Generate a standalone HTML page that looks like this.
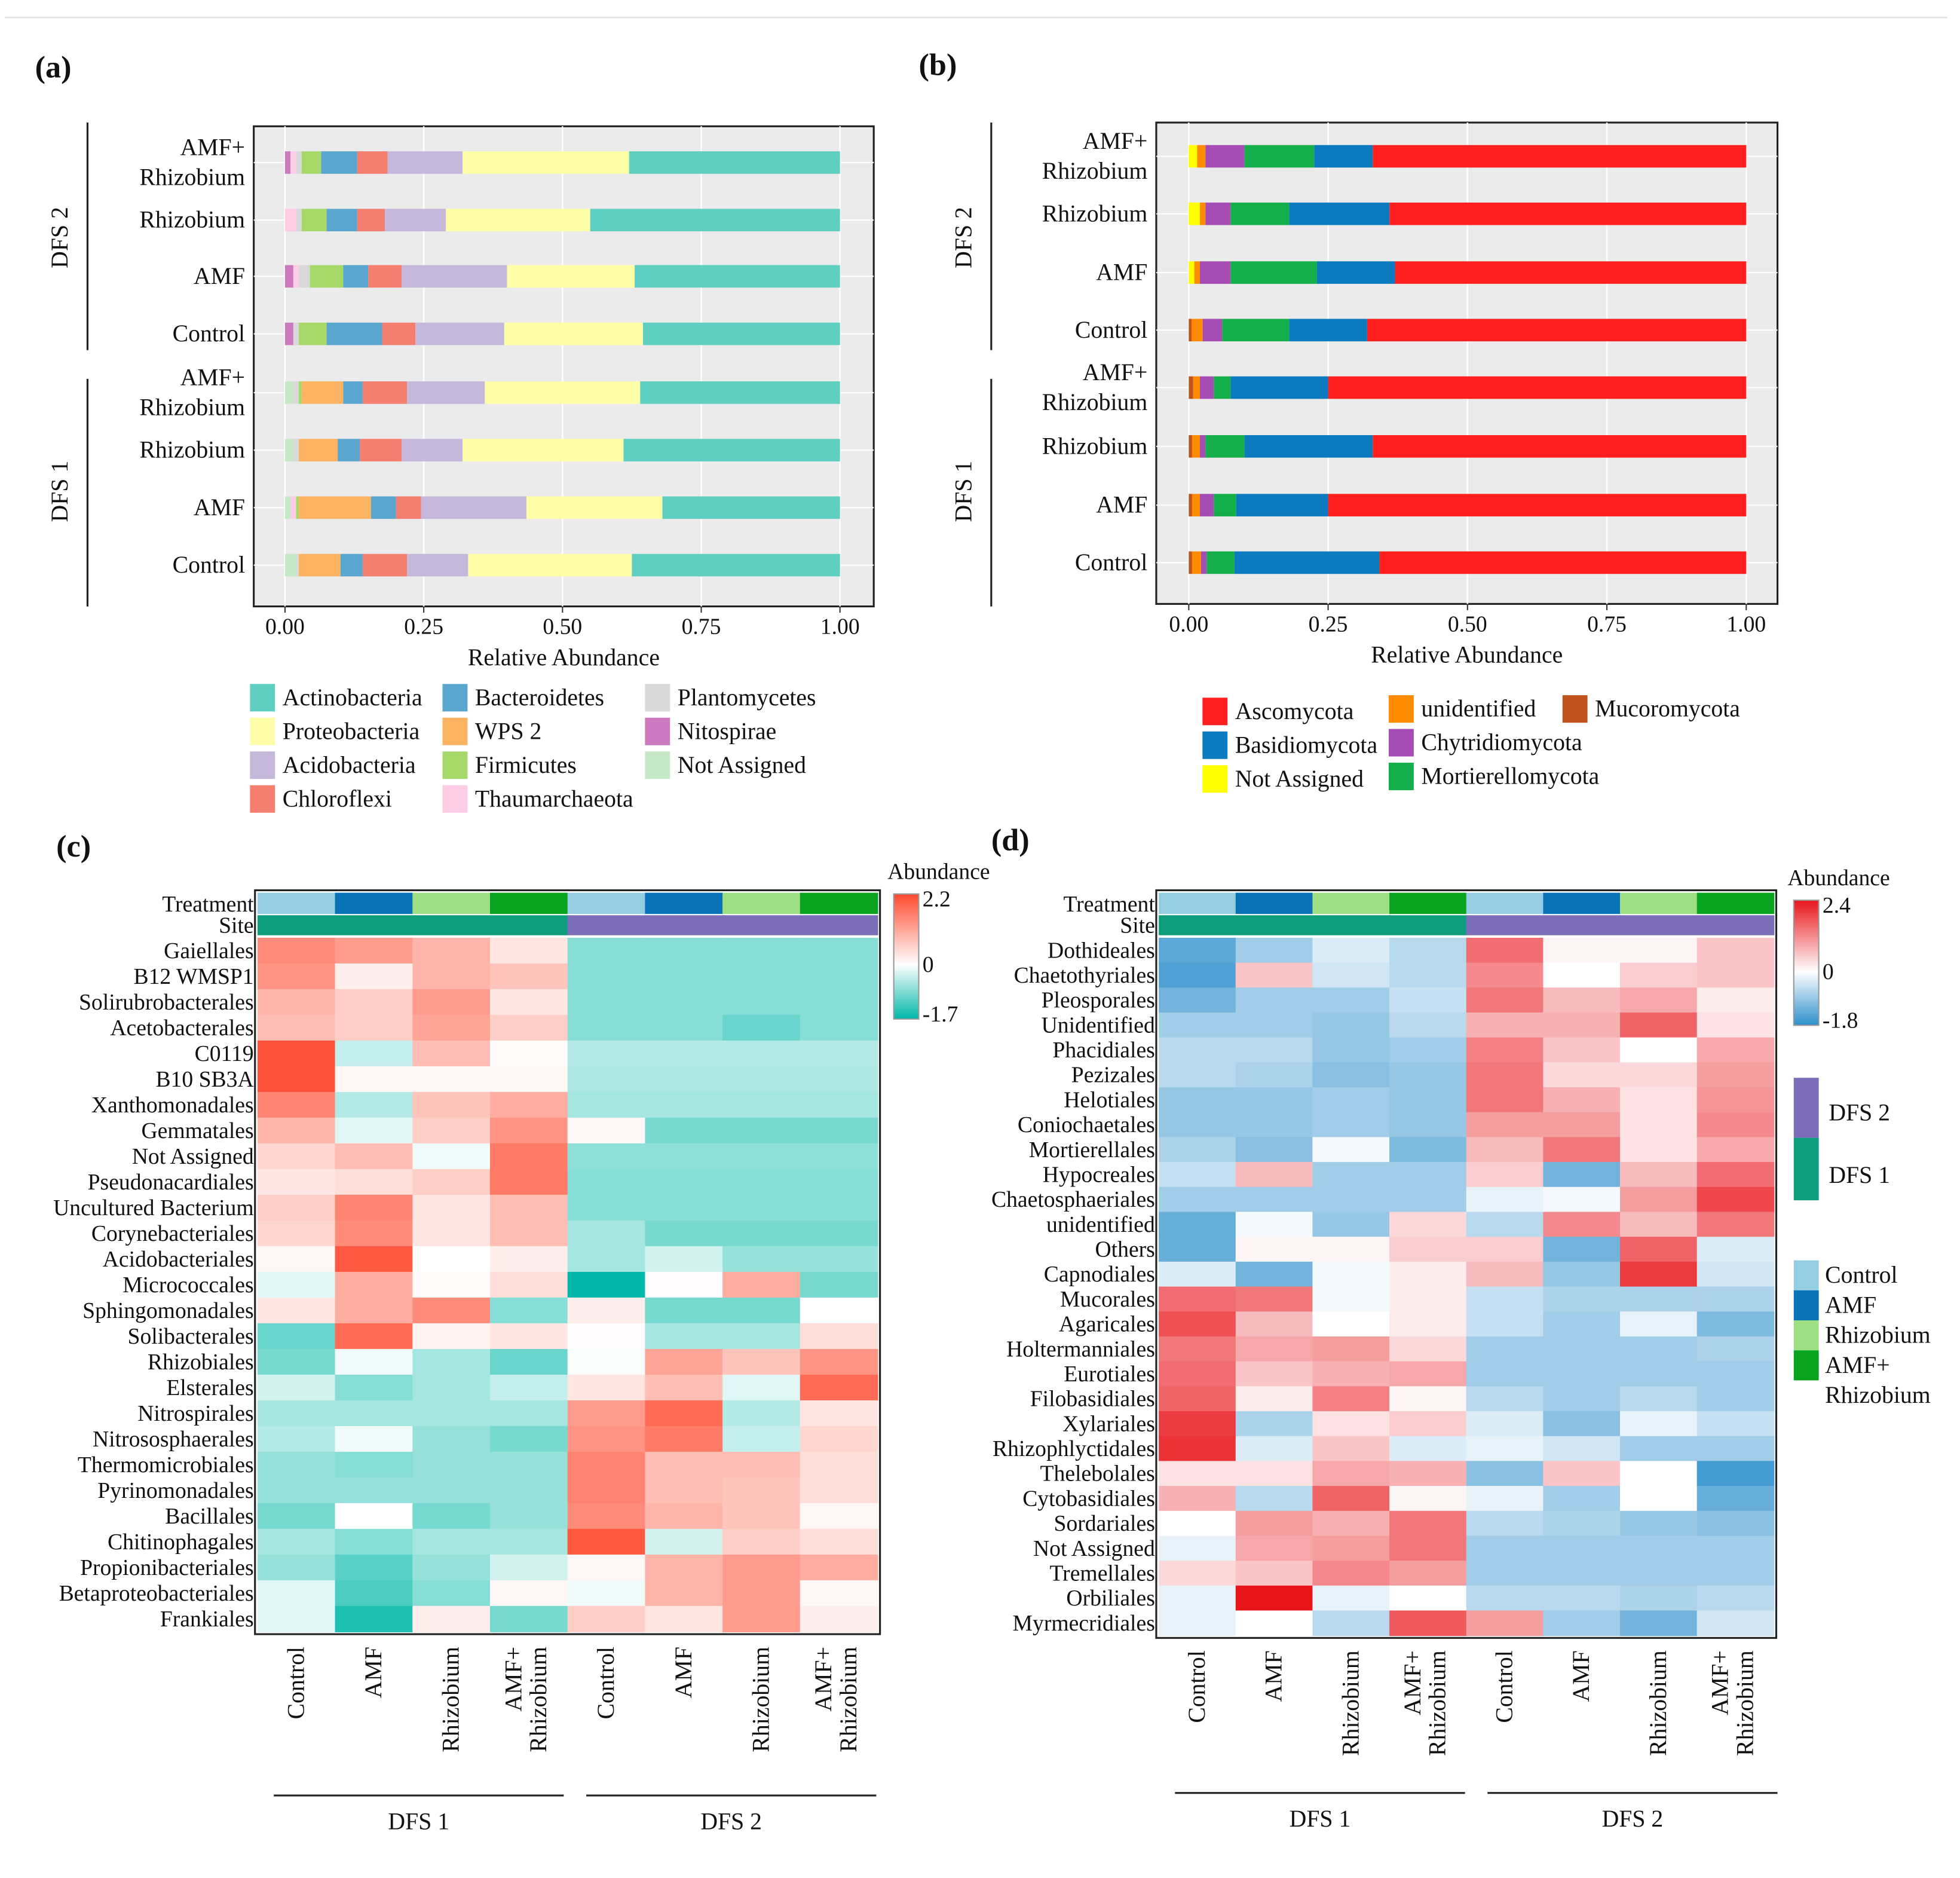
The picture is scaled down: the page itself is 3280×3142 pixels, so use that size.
<!DOCTYPE html>
<html><head><meta charset="utf-8"><style>
html,body{margin:0;padding:0;background:#fff;}
svg{display:block;font-family:"Liberation Serif",serif;}
text{font-family:"Liberation Serif",serif;}
</style></head><body>
<svg id="fig" width="3280" height="3142" viewBox="0 0 1568 1502" xmlns="http://www.w3.org/2000/svg" font-family="Liberation Serif, serif">
<rect x="0" y="0" width="1568" height="1502" fill="#fff"/>
<line x1="4" y1="14" x2="1558" y2="14" stroke="#ddd" stroke-width="1"/>
<g id="root"></g>
</svg>
<script>
// ---------- Panel (a) data ----------
const aRows = ["AMF+\nRhizobium","Rhizobium","AMF","Control","AMF+\nRhizobium","Rhizobium","AMF","Control"];
const aTaxa = ["Not Assigned","Nitospirae","Thaumarchaeota","Plantomycetes","Firmicutes","WPS 2","Bacteroidetes","Chloroflexi","Acidobacteria","Proteobacteria","Actinobacteria"];
const aColors = ["#C5E9C5","#CC79C0","#FCCDE5","#D9D9D9","#A6D96A","#FDB462","#5BA6CF","#F47E70","#C5B8DA","#FFFFAA","#5ECFC0"];
const aNA    = [0,0,0,0,0.015,0.015,0.01,0.02];
const aNit   = [0.01,0,0.015,0.015,0,0,0,0];
const aThau  = [0.01,0.02,0.01,0,0,0,0.01,0];
const aPlan  = [0.01,0.01,0.02,0.01,0.01,0.01,0,0.005];
const aFirm  = [0.035,0.045,0.06,0.05,0.005,0,0.005,0];
const aWPS   = [0,0,0,0,0.075,0.07,0.13,0.075];
const aBact  = [0.065,0.055,0.045,0.1,0.035,0.04,0.045,0.04];
const aChlo  = [0.055,0.05,0.06,0.06,0.08,0.075,0.045,0.08];
const aAcid  = [0.135,0.11,0.19,0.16,0.14,0.11,0.19,0.11];
const aProt  = [0.30,0.26,0.23,0.25,0.28,0.29,0.245,0.295];
const aTicks = ["0.00","0.25","0.50","0.75","1.00"];

// ---------- Panel (b) data ----------
const bTaxa = ["Mucoromycota","Not Assigned","unidentified","Chytridiomycota","Mortierellomycota","Basidiomycota","Ascomycota"];
const bColors = ["#C0541C","#FFFF00","#FF8C00","#A64CB5","#14AF4A","#0B7ABF","#FF1F1F"];
const bMuco = [0,0,0,0.005,0.008,0.006,0.006,0.006];
const bNA   = [0.015,0.02,0.01,0,0,0,0,0];
const bUnid = [0.015,0.01,0.01,0.02,0.012,0.014,0.014,0.016];
const bChyt = [0.07,0.045,0.055,0.035,0.025,0.01,0.025,0.01];
const bMort = [0.125,0.105,0.155,0.12,0.03,0.07,0.04,0.05];
const bBasi = [0.105,0.18,0.14,0.14,0.175,0.23,0.165,0.26];

// ---------- Panel (c) data ----------
const cRows = ["Gaiellales","B12 WMSP1","Solirubrobacterales","Acetobacterales","C0119","B10 SB3A","Xanthomonadales","Gemmatales","Not Assigned","Pseudonacardiales","Uncultured Bacterium","Corynebacteriales","Acidobacteriales","Micrococcales","Sphingomonadales","Solibacterales","Rhizobiales","Elsterales","Nitrospirales","Nitrososphaerales","Thermomicrobiales","Pyrinomonadales","Bacillales","Chitinophagales","Propionibacteriales","Betaproteobacteriales","Frankiales"];
const cVals = [
[1.4,1.2,0.9,0.3,-0.8,-0.8,-0.8,-0.8],
[1.3,0.2,0.9,0.7,-0.8,-0.8,-0.8,-0.8],
[0.9,0.6,1.2,0.3,-0.8,-0.8,-0.8,-0.8],
[0.8,0.6,1.1,0.6,-0.8,-0.8,-1.0,-0.8],
[2.1,-0.4,0.8,0.05,-0.5,-0.5,-0.5,-0.5],
[2.1,0.1,0.1,0.1,-0.55,-0.55,-0.55,-0.55],
[1.5,-0.5,0.7,1.0,-0.6,-0.6,-0.6,-0.6],
[0.9,-0.2,0.6,1.3,0.1,-0.9,-0.9,-0.9],
[0.5,0.8,-0.1,1.6,-0.75,-0.75,-0.75,-0.75],
[0.3,0.4,0.6,1.6,-0.8,-0.8,-0.8,-0.8],
[0.6,1.5,0.3,0.8,-0.8,-0.8,-0.8,-0.8],
[0.5,1.4,0.3,0.8,-0.6,-0.9,-0.9,-0.9],
[0.1,2.0,0.0,0.2,-0.6,-0.3,-0.7,-0.7],
[-0.2,1.0,0.05,0.4,-1.7,0.02,1.0,-0.9],
[0.3,1.0,1.4,-0.8,0.2,-0.9,-0.9,0.0],
[-1.0,1.8,0.15,0.3,0.02,-0.6,-0.6,0.4],
[-0.9,-0.1,-0.6,-1.0,-0.05,1.1,0.7,1.3],
[-0.3,-0.8,-0.6,-0.4,0.3,0.8,-0.2,1.8],
[-0.6,-0.6,-0.6,-0.6,1.2,1.8,-0.5,0.3],
[-0.5,-0.1,-0.7,-0.9,1.3,1.6,-0.4,0.5],
[-0.7,-0.8,-0.7,-0.7,1.5,0.8,0.8,0.4],
[-0.7,-0.7,-0.7,-0.7,1.5,0.8,0.7,0.4],
[-0.9,0.0,-0.9,-0.7,1.4,0.9,0.7,0.1],
[-0.6,-0.8,-0.6,-0.6,2.0,-0.3,0.6,0.4],
[-0.7,-1.1,-0.7,-0.3,0.1,0.9,1.2,1.0],
[-0.2,-1.2,-0.8,0.1,-0.1,0.9,1.2,0.1],
[-0.2,-1.5,0.2,-0.9,0.6,0.3,1.2,0.2]
];
// ---------- Panel (d) data ----------
const dRows = ["Dothideales","Chaetothyriales","Pleosporales","Unidentified","Phacidiales","Pezizales","Helotiales","Coniochaetales","Mortierellales","Hypocreales","Chaetosphaeriales","unidentified","Others","Capnodiales","Mucorales","Agaricales","Holtermanniales","Eurotiales","Filobasidiales","Xylariales","Rhizophlyctidales","Thelebolales","Cytobasidiales","Sordariales","Not Assigned","Tremellales","Orbiliales","Myrmecridiales"];
const dVals = [
[-1.4,-0.8,-0.3,-0.6,1.5,0.1,0.1,0.6],
[-1.5,0.6,-0.4,-0.6,1.2,0.0,0.5,0.6],
[-1.2,-0.8,-0.8,-0.5,1.4,0.7,0.9,0.2],
[-0.8,-0.8,-0.9,-0.6,0.8,0.8,1.6,0.3],
[-0.6,-0.6,-0.9,-0.8,1.3,0.6,0.0,0.9],
[-0.6,-0.7,-1.0,-0.9,1.4,0.4,0.4,1.0],
[-0.9,-0.9,-0.8,-0.9,1.4,0.8,0.3,1.1],
[-0.9,-0.9,-0.8,-0.9,1.0,1.0,0.3,1.2],
[-0.7,-1.0,-0.1,-1.1,0.7,1.4,0.3,0.9],
[-0.5,0.7,-0.8,-0.8,0.5,-1.2,0.7,1.5],
[-0.8,-0.8,-0.8,-0.8,-0.2,-0.1,1.0,1.9],
[-1.3,-0.1,-0.9,0.4,-0.6,1.2,0.7,1.4],
[-1.3,0.1,0.1,0.5,0.5,-1.2,1.6,-0.3],
[-0.3,-1.2,-0.1,0.2,0.7,-0.9,2.0,-0.4],
[1.5,1.4,-0.1,0.2,-0.5,-0.7,-0.7,-0.7],
[1.8,0.7,0.0,0.2,-0.5,-0.8,-0.2,-1.1],
[1.4,0.9,1.0,0.4,-0.8,-0.8,-0.8,-0.7],
[1.5,0.6,0.8,0.9,-0.8,-0.8,-0.8,-0.8],
[1.6,0.2,1.3,0.1,-0.6,-0.8,-0.6,-0.8],
[2.0,-0.7,0.3,0.5,-0.3,-1.0,-0.2,-0.5],
[2.1,-0.3,0.6,-0.3,-0.2,-0.4,-0.8,-0.8],
[0.3,0.3,0.9,0.8,-1.0,0.6,0.0,-1.6],
[0.8,-0.6,1.6,0.1,-0.2,-0.8,0.0,-1.3],
[0.0,1.0,0.8,1.4,-0.6,-0.7,-0.9,-1.0],
[-0.2,0.9,1.0,1.4,-0.8,-0.8,-0.8,-0.8],
[0.4,0.6,1.2,1.0,-0.8,-0.8,-0.8,-0.8],
[-0.2,2.4,-0.2,0.0,-0.6,-0.6,-0.7,-0.6],
[-0.2,0.0,-0.6,1.7,1.0,-0.8,-1.2,-0.4]
];
const colTreat = ["Control","AMF","Rhizobium","AMF+\nRhizobium","Control","AMF","Rhizobium","AMF+\nRhizobium"];
const treatColors = ["#95CDE3","#0A72B6","#9EDF86","#0AA320"];
const siteColors = ["#0F9E7C","#7B6DB7"];

const NS="http://www.w3.org/2000/svg";
const root=document.getElementById('root');
function el(tag,attrs,parent){const e=document.createElementNS(NS,tag);for(const k in attrs)e.setAttribute(k,attrs[k]);(parent||root).appendChild(e);return e;}
function txt(x,y,s,size,anchor,parent,extra){const t=el('text',Object.assign({x:x,y:y,'font-size':size,'text-anchor':anchor||'start',fill:'#111','font-family':'Liberation Serif, serif'},extra||{}),parent);t.textContent=s;return t;}
function hex(c){return [parseInt(c.slice(1,3),16),parseInt(c.slice(3,5),16),parseInt(c.slice(5,7),16)];}
function mix(a,b,t){const A=hex(a),B=hex(b);return 'rgb('+A.map((v,i)=>Math.round(v+(B[i]-v)*t)).join(',')+')';}

// ---------- bar panels ----------
function barPanel(cfg){
  const g=el('g',{});
  
  
  el('rect',{x:cfg.px,y:cfg.py,width:cfg.pw,height:cfg.ph,fill:'#EBEBEB',stroke:'#222','stroke-width':1.5},g);
  const xs=v=>cfg.x0+v*(cfg.x1-cfg.x0);
  [0,0.25,0.5,0.75,1].forEach((v,i)=>{
    el('line',{x1:xs(v),x2:xs(v),y1:cfg.py,y2:cfg.py+cfg.ph,stroke:'#fff','stroke-width':1.2},g);
    el('line',{x1:xs(v),x2:xs(v),y1:cfg.py+cfg.ph,y2:cfg.py+cfg.ph+5,stroke:'#333'},g);
    const t=txt(xs(v),cfg.py+cfg.ph+22,aTicks[i],18,'middle',g);
    
    
  });
  cfg.series.forEach((r,ri)=>{
    const cy=cfg.rowY[ri];
    el('line',{x1:cfg.px,x2:cfg.px+cfg.pw,y1:cy,y2:cy,stroke:'#fff','stroke-width':1},g);
    let acc=0;
    const vals=cfg.cols.map(arr=>arr[ri]);
    const tot=vals.reduce((a,b)=>a+b,0);
    vals.push(1-tot);
    vals.forEach((v,si)=>{
      if(v<=0)return;
      const rc=el('rect',{x:xs(acc),y:cy-9,width:xs(acc+v)-xs(acc),height:18,fill:cfg.colors[si]},g);
      
      
      acc+=v;
    });
    const lines=r.split('\n');
    if(lines.length===2){
      txt(cfg.px-7,cy-6,lines[0],19,'end',g);txt(cfg.px-7,cy+18,lines[1],19,'end',g);
    } else txt(cfg.px-7,cy+6,r,19,'end',g);
  });
  const xt=txt(cfg.px+cfg.pw/2,cfg.py+cfg.ph+47,'Relative Abundance',19,'middle',g);
  
  
  el('line',{x1:cfg.gx,x2:cfg.gx,y1:98,y2:280,stroke:'#222','stroke-width':1.5},g);
  el('line',{x1:cfg.gx,x2:cfg.gx,y1:303,y2:485,stroke:'#222','stroke-width':1.5},g);
  txt(cfg.gx-16,190,'DFS 2',19,'middle',g,{transform:`rotate(-90 ${cfg.gx-16} 190)`});
  txt(cfg.gx-16,393,'DFS 1',19,'middle',g,{transform:`rotate(-90 ${cfg.gx-16} 393)`});
}
const aCols=[aNA,aNit,aThau,aPlan,aFirm,aWPS,aBact,aChlo,aAcid,aProt];
barPanel({name:'bacteria-bar-chart',px:203,py:101,pw:496,ph:384,x0:228,x1:672,rowY:[130,176,221,267,314,360,406,452],series:aRows,cols:aCols,colors:aColors,gx:70});
const bCols=[bMuco,bNA,bUnid,bChyt,bMort,bBasi];
barPanel({name:'fungi-bar-chart',px:925,py:98,pw:497,ph:385,x0:951,x1:1397,rowY:[125,171,218,264,310,357,404,450],series:aRows,cols:bCols,colors:bColors,gx:793});

// panel letters
[['(a)',28,62],['(b)',735,60],['(c)',45,685],['(d)',793,680]].forEach(p=>{const t=txt(p[1],p[2],p[0],25,'start',root,{'font-weight':'bold'});});

// legends for bars
function legend(items,name){
  const g=el('g',{});
  
  
  items.forEach(it=>{
    const r=el('rect',{x:it[1],y:it[2],width:20,height:22,fill:it[3]},g);
    
    
    txt(it[1]+26,it[2]+17,it[0],19,'start',g);
  });
}
legend([["Actinobacteria",200,547,aColors[10]],["Proteobacteria",200,574,aColors[9]],["Acidobacteria",200,601,aColors[8]],["Chloroflexi",200,628,aColors[7]],
["Bacteroidetes",354,547,aColors[6]],["WPS 2",354,574,aColors[5]],["Firmicutes",354,601,aColors[4]],["Thaumarchaeota",354,628,aColors[2]],
["Plantomycetes",516,547,aColors[3]],["Nitospirae",516,574,aColors[1]],["Not Assigned",516,601,aColors[0]]],'bacteria-legend');
legend([["Ascomycota",962,558,bColors[6]],["Basidiomycota",962,585,bColors[5]],["Not Assigned",962,612,bColors[1]],
["unidentified",1111,556,bColors[2]],["Chytridiomycota",1111,583,bColors[3]],["Mortierellomycota",1111,610,bColors[4]],["Mucoromycota",1250,556,bColors[0]]],'fungi-legend');

// ---------- heatmaps ----------
function heat(cfg){
  const g=el('g',{});
  
  
  const cw=(cfg.x1-cfg.x0)/8, rh=(cfg.y1-cfg.y0)/cfg.rows.length;
  const col=v=>v>=0?mix('#FFFFFF',cfg.hi,Math.min(1,v/cfg.max)):mix('#FFFFFF',cfg.lo,Math.min(1,-v/-cfg.min));
  for(let j=0;j<8;j++){
    const t=el('rect',{x:cfg.x0+j*cw,y:cfg.ty,width:cw+0.5,height:17,fill:treatColors[j%4]},g);
    
    
    const s=el('rect',{x:cfg.x0+j*cw,y:cfg.ty+18,width:cw+0.5,height:16,fill:siteColors[j<4?0:1]},g);
    
    
  }
  txt(cfg.x0-3,cfg.ty+15,'Treatment',18,'end',g);
  txt(cfg.x0-3,cfg.ty+32,'Site',18,'end',g);
  cfg.vals.forEach((row,i)=>{
    row.forEach((v,j)=>{
      const r=el('rect',{x:cfg.x0+j*cw,y:cfg.y0+i*rh,width:cw+0.5,height:rh+0.5,fill:col(v)},g);
      
      
    });
    txt(cfg.x0-3,cfg.y0+i*rh+rh/2+6,cfg.rows[i],18,'end',g);
  });
  el('rect',{x:cfg.x0-2,y:cfg.ty-2,width:cfg.x1-cfg.x0+4,height:cfg.y1-cfg.ty+4,fill:'none',stroke:'#222','stroke-width':1.5},g);
  colTreat.forEach((s,j)=>{
    const cx=cfg.x0+j*cw+cw/2, ty=cfg.y1+12;
    const lines=s.split('\n');
    if(lines.length===2){
      txt(cx-6,ty,lines[0],19,'end',g,{transform:`rotate(-90 ${cx-6} ${ty})`});
      txt(cx+14,ty,lines[1],19,'end',g,{transform:`rotate(-90 ${cx+14} ${ty})`});
    } else txt(cx+6,ty,s,19,'end',g,{transform:`rotate(-90 ${cx+6} ${ty})`});
  });
  el('line',{x1:cfg.x0+13,x2:cfg.x0+245,y1:cfg.gy,y2:cfg.gy,stroke:'#222','stroke-width':1.5},g);
  el('line',{x1:cfg.x0+263,x2:cfg.x0+495,y1:cfg.gy,y2:cfg.gy,stroke:'#222','stroke-width':1.5},g);
  txt(cfg.x0+129,cfg.gy+27,'DFS 1',19,'middle',g);
  txt(cfg.x0+379,cfg.gy+27,'DFS 2',19,'middle',g);
  const gid=cfg.name+'-grad';
  const defs=el('defs',{},g);
  const lg=el('linearGradient',{id:gid,x1:0,y1:0,x2:0,y2:1},defs);
  el('stop',{offset:'0','stop-color':cfg.hi},lg);
  el('stop',{offset:String(cfg.max/(cfg.max-cfg.min)),'stop-color':'#FFFFFF'},lg);
  el('stop',{offset:'1','stop-color':cfg.lo},lg);
  const cb=el('rect',{x:cfg.lx,y:cfg.ly,width:20,height:100,fill:`url(#${gid})`,stroke:'#999','stroke-width':1},g);
  
  
  txt(cfg.lx-5,cfg.ly-12,'Abundance',18,'start',g);
  txt(cfg.lx+23,cfg.ly+10,String(cfg.max),18,'start',g);
  txt(cfg.lx+23,cfg.ly+100*cfg.max/(cfg.max-cfg.min)+6,'0',18,'start',g);
  txt(cfg.lx+23,cfg.ly+102,String(cfg.min),18,'start',g);
}
heat({name:'bacteria-heatmap',rows:cRows,vals:cVals,x0:206,x1:702,ty:714,y0:750,y1:1305,hi:'#FF4A2E',lo:'#00B8A8',max:2.2,min:-1.7,lx:715,ly:715,gy:1436});
heat({name:'fungi-heatmap',rows:dRows,vals:dVals,x0:927,x1:1419,ty:714,y0:750,y1:1308,hi:'#E8151B',lo:'#2D8FCB',max:2.4,min:-1.8,lx:1435,ly:720,gy:1434});

const lgG=el('g',{});


el('rect',{x:1435,y:862,width:20,height:48,fill:siteColors[1]},lgG);
el('rect',{x:1435,y:910,width:20,height:50,fill:siteColors[0]},lgG);
txt(1463,896,'DFS 2',19,'start',lgG);
txt(1463,946,'DFS 1',19,'start',lgG);
[["Control",1008],["AMF",1032],["Rhizobium",1056],["AMF+",1080]].forEach((t,i)=>{
  el('rect',{x:1435,y:t[1],width:20,height:24,fill:treatColors[i]},lgG);
  txt(1460,t[1]+18,t[0],19,'start',lgG);
});
txt(1460,1122,'Rhizobium',19,'start',lgG);
</script>
</body></html>
